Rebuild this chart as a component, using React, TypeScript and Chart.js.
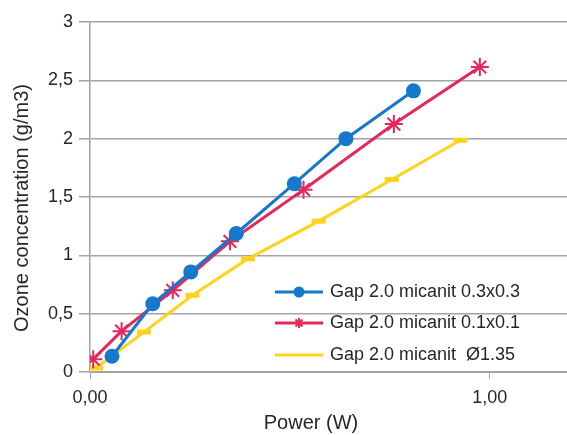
import React, { useEffect, useRef } from "react";
import { Chart, registerables } from "chart.js";

Chart.register(...registerables);

const seriesNames = [
  "Gap 2.0 micanit 0.3x0.3",
  "Gap 2.0 micanit 0.1x0.1",
  "Gap 2.0 micanit  Ø1.35",
];

const blueX = [0.055, 0.157, 0.252, 0.366, 0.511, 0.64, 0.809];
const blueY = [0.135, 0.585, 0.858, 1.187, 1.614, 2.0, 2.41];

const redX = [0.008, 0.079, 0.207, 0.35, 0.534, 0.76, 0.975];
const redY = [0.11, 0.35, 0.7, 1.12, 1.563, 2.125, 2.614];

const yellowX = [0.015, 0.135, 0.256, 0.395, 0.572, 0.755, 0.926];
const yellowY = [0.035, 0.342, 0.658, 0.97, 1.293, 1.65, 1.986];

const xTicks = [0, 1];
const yTicks = [0, 0.5, 1, 1.5, 2, 2.5, 3];

const xTitle = "Power (W)";
const yTitle = "Ozone concentration (g/m3)";

const colors = ["#1578cc", "#e4285c", "#fdd31c"];
const FONT = "'Liberation Sans', Arial, sans-serif";
const GRID = "#a3a3a3";
const TEXT = "#262626";

function pts(xs: number[], ys: number[]) {
  return xs.map((x, i) => ({ x, y: ys[i] }));
}

function drawMarker(ctx: CanvasRenderingContext2D, style: string, x: number, y: number, r: number, color: string) {
  ctx.save();
  ctx.fillStyle = color;
  ctx.strokeStyle = color;
  if (style === "circle") {
    ctx.beginPath();
    ctx.arc(x, y, r, 0, Math.PI * 2);
    ctx.fill();
  } else if (style === "star") {
    ctx.lineWidth = 2;
    ctx.beginPath();
    for (let k = 0; k < 4; k++) {
      const a = (k * Math.PI) / 4;
      ctx.moveTo(x - Math.cos(a) * r, y - Math.sin(a) * r);
      ctx.lineTo(x + Math.cos(a) * r, y + Math.sin(a) * r);
    }
    ctx.stroke();
  }
  ctx.restore();
}

const overlayPlugin = {
  id: "overlay",
  afterDraw(chart: any) {
    const ctx: CanvasRenderingContext2D = chart.ctx;
    ctx.save();
    // axis titles
    ctx.fillStyle = TEXT;
    ctx.font = `20px ${FONT}`;
    ctx.textAlign = "center";
    ctx.textBaseline = "middle";
    ctx.fillText(xTitle, 311, 423);
    ctx.save();
    ctx.translate(22, 208);
    ctx.rotate(-Math.PI / 2);
    ctx.fillText(yTitle, 0, 0);
    ctx.restore();
    // legend
    const styles = ["circle", "star", "none"];
    const rowY = [292, 323, 355];
    chart.data.datasets.forEach((ds: any, i: number) => {
      const y = rowY[i];
      ctx.strokeStyle = ds.borderColor;
      ctx.lineWidth = 3;
      ctx.beginPath();
      ctx.moveTo(275, y);
      ctx.lineTo(323, y);
      ctx.stroke();
      drawMarker(ctx, styles[i], 299, y, i === 0 ? 5.5 : 5, ds.borderColor);
      ctx.fillStyle = TEXT;
      ctx.font = `18px ${FONT}`;
      ctx.textAlign = "left";
      ctx.textBaseline = "middle";
      ctx.fillText(ds.label, 330, y);
    });
    ctx.restore();
  },
};

export default function App() {
  const ref = useRef<HTMLCanvasElement>(null);
  useEffect(() => {
    const canvas = ref.current!;
    const chart = new Chart(canvas, {
      type: "scatter",
      data: {
        datasets: [
          {
            label: seriesNames[0],
            data: pts(blueX, blueY),
            showLine: true,
            borderColor: colors[0],
            backgroundColor: colors[0],
            borderWidth: 3,
            pointStyle: "circle",
            pointRadius: 7.5,
            pointBorderWidth: 0,
          },
          {
            label: seriesNames[1],
            data: pts(redX, redY),
            showLine: true,
            borderColor: colors[1],
            backgroundColor: colors[1],
            borderWidth: 3,
            pointStyle: "star",
            pointRadius: 9,
            pointBorderWidth: 2,
          },
          {
            label: seriesNames[2],
            data: pts(yellowX, yellowY),
            showLine: true,
            borderColor: colors[2],
            backgroundColor: colors[2],
            borderWidth: 3,
            pointStyle: "line",
            pointRadius: 7,
            pointBorderWidth: 5,
          },
        ],
      },
      options: {
        animation: false,
        responsive: false,
        devicePixelRatio: 1,
        layout: { autoPadding: false, padding: { top: 22, right: 0, left: 0, bottom: 0 } },
        plugins: { legend: { display: false }, tooltip: { enabled: false } },
        scales: {
          x: {
            type: "linear",
            min: 0,
            max: 1.193,
            afterFit: (s: any) => {
              s.height = 63;
              s.paddingRight = 0;
              s.paddingLeft = 0;
            },
            afterBuildTicks: (s: any) => {
              s.ticks = xTicks.map((v) => ({ value: v }));
            },
            ticks: {
              font: { family: FONT, size: 18 },
              color: TEXT,
              padding: 8,
              maxRotation: 0,
              callback: (v: any) => Number(v).toFixed(2).replace(".", ","),
            },
            grid: { drawOnChartArea: false, drawTicks: true, tickLength: 7, color: GRID },
            border: { display: true, color: GRID, width: 1 },
          },
          y: {
            type: "linear",
            min: 0,
            max: 3,
            afterFit: (s: any) => {
              s.width = 90;
              s.paddingTop = 0;
              s.paddingBottom = 0;
            },
            afterBuildTicks: (s: any) => {
              s.ticks = yTicks.map((v) => ({ value: v }));
            },
            ticks: {
              font: { family: FONT, size: 18 },
              color: TEXT,
              padding: 6,
              callback: (v: any) => String(v).replace(".", ","),
            },
            grid: { color: GRID, tickLength: 11, lineWidth: 1.5 },
            border: { display: true, color: GRID, width: 1.5 },
          },
        },
      },
      plugins: [overlayPlugin],
    });
    return () => chart.destroy();
  }, []);
  return (
    <div style={{ position: "absolute", left: 0, top: 0, width: 567, height: 435, background: "#fff" }}>
      <canvas ref={ref} width={567} height={435} />
    </div>
  );
}
